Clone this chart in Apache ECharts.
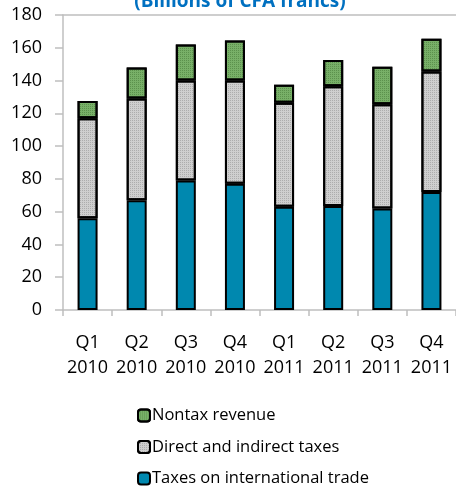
<!DOCTYPE html>
<html>
<head>
<meta charset="utf-8">
<script src="https://cdn.jsdelivr.net/npm/echarts@6/dist/echarts.min.js"></script>
<style>
  html, body { margin: 0; padding: 0; background: #FFFFFF; }
  #chart { width: 456px; height: 487px; }
</style>
</head>
<body>
<div id="chart"></div>
<script>
// quarters on the x axis
var quarters = ['Q1\n2010', 'Q2\n2010', 'Q3\n2010', 'Q4\n2010', 'Q1\n2011', 'Q2\n2011', 'Q3\n2011', 'Q4\n2011'];
// billions of CFA francs, stacked from the bottom
var tradeTaxes = [56, 67, 79, 77, 63, 63.5, 62, 72];
var directIndirect = [61, 62, 61, 63, 63.5, 73, 63.5, 73.5];
var nontax = [10.5, 19, 22, 24.5, 11, 16, 23, 20];
var yTicks = [0, 20, 40, 60, 80, 100, 120, 140, 160, 180];

var chart = echarts.init(document.getElementById('chart'));
var font = '"Open Sans", "Noto Sans", sans-serif';

function barSeries(name, data, color, dots) {
  var style = { color: color, borderColor: '#000000', borderWidth: 2 };
  // fine texture like the excel pattern fills
  if (dots) {
    style.decal = { symbol: 'rect', symbolSize: 1, dashArrayX: [1, 1], dashArrayY: [1, 1], color: dots };
  }
  return {
    name: name,
    type: 'bar',
    stack: 'total',
    barWidth: 20,
    data: data,
    itemStyle: style
  };
}

var option = {
  animation: false,
  textStyle: { fontFamily: font },
  title: {
    text: '(Billions of CFA francs)',
    left: 235,
    top: -13,
    textAlign: 'center',
    textStyle: { color: '#0070C0', fontSize: 19, fontWeight: 'bold', fontFamily: font }
  },
  grid: { left: 63, top: 15, width: 395, bottom: 177 },
  legend: {
    orient: 'vertical',
    left: 137,
    top: 407,
    height: 81,
    padding: 0,
    itemWidth: 12,
    itemHeight: 12,
    itemGap: 14.5,
    data: ['Nontax revenue', 'Direct and indirect taxes', 'Taxes on international trade'],
    textStyle: { fontSize: 16.5, color: '#000000', fontFamily: font, padding: [0, 0, 0, -3] }
  },
  xAxis: [{
    type: 'category',
    data: quarters,
    axisLine: { lineStyle: { color: '#BFBFBF', width: 1.5 } },
    axisTick: { show: true, length: 6, lineStyle: { color: '#BFBFBF', width: 1.5 } },
    axisLabel: { fontSize: 18, lineHeight: 25, color: '#000000', margin: 20, interval: 0 }
  }, {
    type: 'category',
    data: quarters,
    position: 'top',
    axisLine: { lineStyle: { color: '#BFBFBF', width: 1.5 } },
    axisTick: { show: false },
    axisLabel: { show: false }
  }],
  yAxis: {
    type: 'value',
    min: 0,
    max: 180,
    interval: 20,
    axisLine: { show: true, lineStyle: { color: '#BFBFBF', width: 1.5 } },
    axisTick: { show: true, length: 8, lineStyle: { color: '#BFBFBF', width: 1.5 } },
    splitLine: { show: false },
    axisLabel: {
      fontSize: 18, color: '#000000', margin: 21,
      formatter: function (v) { return yTicks.indexOf(v) >= 0 ? String(v) : ''; }
    }
  },
  series: [
    barSeries('Taxes on international trade', tradeTaxes, '#0088AF'),
    barSeries('Direct and indirect taxes', directIndirect, '#CFCFCF', 'rgba(110,110,110,0.35)'),
    barSeries('Nontax revenue', nontax, '#78B068', 'rgba(40,90,30,0.35)')
  ]
};
chart.setOption(option);
</script>
</body>
</html>
